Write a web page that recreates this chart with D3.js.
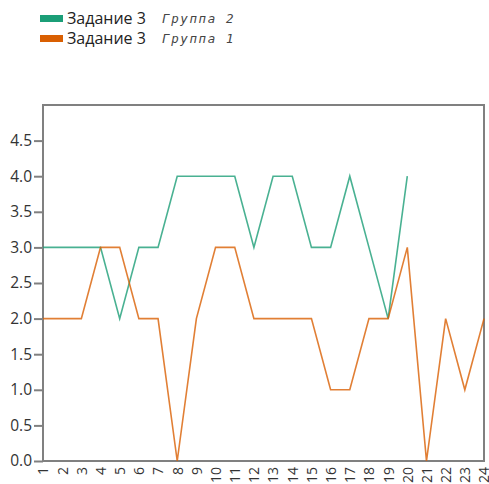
<!DOCTYPE html>
<html>
<head>
<meta charset="utf-8">
<script src="https://cdn.jsdelivr.net/npm/d3@7"></script>
<style>
  body { margin: 0; background: #fff; }
  svg { display: block; }
</style>
</head>
<body>
<div id="graph"></div>
<script>
// Data
let tasks = d3.range(1, 25);                 // 1 .. 24
let group2_values = [3, 3, 3, 3, 2, 3, 3, 4, 4, 4, 4, 3, 4, 4, 3, 3, 4, 3, 2, 4];
let group1_values = [2, 2, 2, 3, 3, 2, 2, 0, 2, 3, 3, 2, 2, 2, 2, 1, 1, 2, 2, 3, 0, 2, 1, 2];
let y_ticks = [0, 0.5, 1, 1.5, 2, 2.5, 3, 3.5, 4, 4.5];
let series_names = ["Задание 3", "Задание 3"];
let series_groups = ["Группа 2", "Группа 1"];
let series_colors = ["#1b9e77", "#d95f02"];

let width = 489;
let height = 484;

let plot_left = 43, plot_right = 484, plot_top = 105, plot_bottom = 461;

var xscale = d3.scaleLinear()
               .domain([1, 24])
               .range([plot_left, plot_right]);

var yscale = d3.scaleLinear()
               .domain([0, 5])
               .range([plot_bottom, plot_top]);

var chart = d3.select("#graph")
              .append("svg")
                .attr("width", width)
                .attr("height", height);

// Frame round the plot area
chart.append("rect")
     .attr("x", plot_left)
     .attr("y", plot_top)
     .attr("width", plot_right - plot_left)
     .attr("height", plot_bottom - plot_top)
     .attr("fill", "none")
     .attr("stroke", "#808080")
     .attr("stroke-width", 2);

// Y axis
var y_axis = d3.axisLeft()
               .scale(yscale)
               .tickValues(y_ticks)
               .tickFormat(d3.format(".1f"))
               .tickSize(9)
               .tickPadding(2);

var yAxisElements = chart.append("g")
                         .attr("transform", "translate(" + plot_left + ",0)")
                         .call(y_axis);
yAxisElements.select(".domain").remove();
yAxisElements.selectAll("line")
             .attr("stroke", "#808080")
             .attr("stroke-width", 2);
yAxisElements.selectAll("text")
             .attr("font-family", "'Open Sans', sans-serif")
             .attr("font-size", 15.5)
             .attr("fill", "#333");

// X axis, labels turned to read bottom to top
var x_axis = d3.axisBottom()
               .scale(xscale)
               .tickValues(tasks)
               .tickFormat(d3.format("d"))
               .tickSize(0)
               .tickPadding(0);

var xAxisElements = chart.append("g")
                         .attr("transform", "translate(0," + plot_bottom + ")")
                         .call(x_axis);
xAxisElements.select(".domain").remove();
xAxisElements.selectAll("text")
             .attr("font-family", "'Open Sans', sans-serif")
             .attr("font-size", 14)
             .attr("fill", "#333")
             .attr("text-anchor", "end")
             .attr("transform", "rotate(-90)")
             .attr("x", -6)
             .attr("y", 0)
             .attr("dy", "0.35em");

// Lines
var line = d3.line()
             .x(function (d, i) { return xscale(tasks[i]); })
             .y(function (d) { return yscale(d); });

[group2_values, group1_values].forEach(function (vals, k) {
  chart.append("path")
       .datum(vals)
       .attr("d", line)
       .attr("fill", "none")
       .attr("stroke", series_colors[k])
       .attr("stroke-opacity", 0.8)
       .attr("stroke-width", 1.6);
});

// Legend
var legend = chart.append("g");
series_names.forEach(function (name, k) {
  let y = 18 + k * 20;
  legend.append("rect")
        .attr("x", 40)
        .attr("y", y - 3)
        .attr("width", 23)
        .attr("height", 7)
        .attr("fill", series_colors[k]);
  legend.append("text")
        .attr("x", 67)
        .attr("y", y + 6)
        .attr("font-family", "'Open Sans', sans-serif")
        .attr("font-size", 16)
        .attr("fill", "#222")
        .text(name);
  legend.append("text")
        .attr("x", 162)
        .attr("y", y + 5)
        .attr("font-family", "'DejaVu Sans Mono', monospace")
        .attr("font-style", "italic")
        .attr("font-size", 12.5)
        .attr("letter-spacing", 1.6)
        .attr("fill", "#444")
        .text(series_groups[k]);
});
</script>
</body>
</html>
